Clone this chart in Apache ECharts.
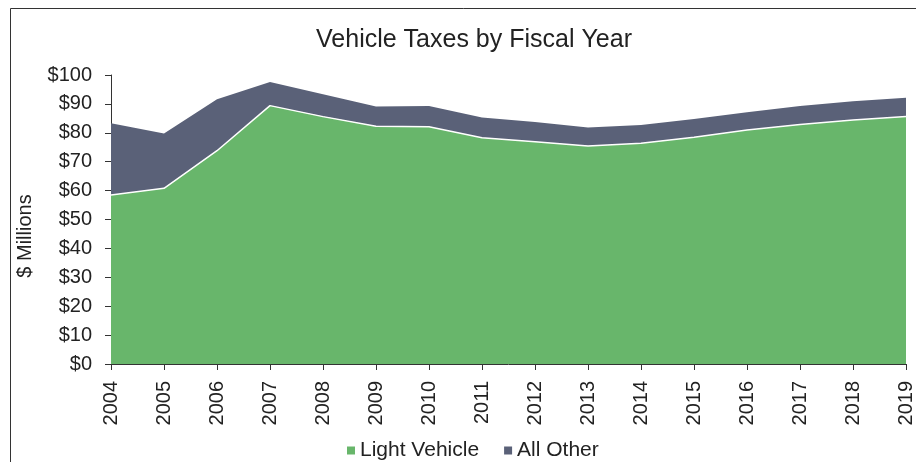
<!DOCTYPE html>
<html><head><meta charset="utf-8">
<script src="https://cdn.jsdelivr.net/npm/echarts@6/dist/echarts.min.js"></script>
<style>html,body{margin:0;padding:0;background:#fff}#c{width:916px;height:462px}</style>
</head><body><div id="c"></div>
<script>
const years = ['2004','2005','2006','2007','2008','2009','2010','2011','2012','2013','2014','2015','2016','2017','2018','2019'];
const lightVehicle = [58.5,60.8,73.8,89.4,85.6,82.3,82.1,78.3,76.9,75.4,76.4,78.5,81.0,82.9,84.4,85.6];
const allOther = [24.8,19.0,17.8,8.2,7.7,6.8,7.2,7.0,6.8,6.4,6.3,6.3,6.1,6.4,6.5,6.5];
const font = 'Liberation Sans, Arial, sans-serif';
const chart = echarts.init(document.getElementById('c'));
chart.setOption({
  animation: false,
  title: { text: 'Vehicle Taxes by Fiscal Year', left: 469, textAlign: 'center', top: 23, textStyle: { fontFamily: font, fontSize: 25, fontWeight: 'normal', color: '#222' } },
  graphic: [
    { type: 'rect', shape: { x: 10.5, y: 8.5, width: 930, height: 480 }, style: { fill: null, stroke: '#333', lineWidth: 1 }, silent: true },
    { type: 'text', x: 25.5, y: 236, rotation: Math.PI / 2, style: { text: '$ Millions', fontFamily: font, fontSize: 20, fill: '#222', align: 'center', verticalAlign: 'middle' }, silent: true }
  ],
  legend: { top: 435, left: 342, itemWidth: 8, itemHeight: 8, itemGap: 25, icon: 'rect', textStyle: { fontFamily: font, fontSize: 21, color: '#222' }, data: ['Light Vehicle', 'All Other'] },
  grid: { left: 111, right: 10, top: 75, bottom: 98, containLabel: false },
  xAxis: { type: 'category', data: years, boundaryGap: false,
    axisLine: { lineStyle: { color: '#333' } }, axisTick: { alignWithLabel: true, length: 6, lineStyle: { color: '#333' } },
    axisLabel: { rotate: 90, fontFamily: font, fontSize: 20, color: '#222', margin: 17 } },
  yAxis: { type: 'value', min: 0, max: 100, interval: 10,
    axisLine: { show: true, lineStyle: { color: '#333' } }, axisTick: { show: true, length: 6, lineStyle: { color: '#333' } },
    splitLine: { show: false },
    axisLabel: { formatter: '${value}', fontFamily: font, fontSize: 20, color: '#222', margin: 19 } },
  series: [
    { name: 'Light Vehicle', type: 'line', stack: 't', data: lightVehicle, symbol: 'none', color: '#68b66b',
      lineStyle: { color: '#fff', width: 1.5 }, areaStyle: { color: '#68b66b', opacity: 1 }, z: 3 },
    { name: 'All Other', type: 'line', stack: 't', data: allOther, symbol: 'none', color: '#5a6178',
      lineStyle: { width: 0 }, areaStyle: { color: '#5a6178', opacity: 1 }, z: 2 }
  ]
});
</script></body></html>
